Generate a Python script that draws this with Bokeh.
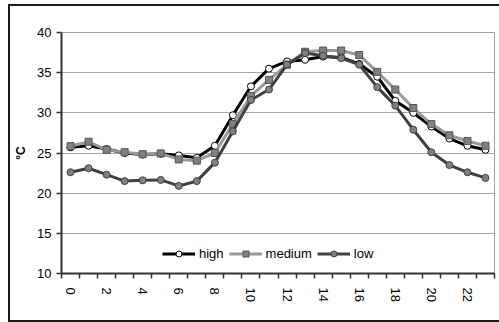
from bokeh.plotting import figure
from bokeh.models import Range1d, FixedTicker, Legend, LegendItem
from bokeh.embed import file_html
from bokeh.resources import INLINE

hours = list(range(24))
high = [25.7, 25.9, 25.5, 25.0, 24.8, 24.9, 24.7, 24.4, 25.9, 29.7, 33.3, 35.5,
        36.4, 36.6, 37.0, 36.9, 36.1, 34.5, 31.5, 30.0, 28.3, 26.8, 25.9, 25.4]
medium = [25.85, 26.4, 25.4, 25.1, 24.85, 24.95, 24.2, 24.05, 25.0, 28.6, 32.1, 34.1,
          36.0, 37.6, 37.75, 37.75, 37.2, 35.1, 32.9, 30.6, 28.6, 27.2, 26.5, 25.9]
low = [22.6, 23.1, 22.3, 21.5, 21.6, 21.65, 20.9, 21.5, 23.8, 27.7, 31.6, 32.9,
       36.0, 37.45, 37.1, 36.8, 36.0, 33.2, 30.9, 27.9, 25.1, 23.5, 22.6, 21.9]
x_tick_labels = [0, 2, 4, 6, 8, 10, 12, 14, 16, 18, 20, 22]
y_ticks = [10, 15, 20, 25, 30, 35, 40]

FONT = "Liberation Sans"

p = figure(width=499, height=322, output_backend="svg", toolbar_location=None,
           x_range=Range1d(-0.5, 23.5), y_range=Range1d(10, 40),
           min_border_left=61, min_border_right=5, min_border_top=32, min_border_bottom=49)
p.border_fill_color = None
p.background_fill_color = "white"
p.outline_line_color = "#a0a0a0"
p.outline_line_width = 1
g = "linear-gradient(#1a1a1a, #1a1a1a)"
p.styles = {"background-color": "white",
            "background-image": f"{g}, {g}, {g}",
            "background-size": "2px 318px, 491px 2px, 491px 2px",
            "background-position": "8px 4px, 8px 4px, 8px 320px",
            "background-repeat": "no-repeat"}

# axes
p.xaxis.ticker = FixedTicker(ticks=x_tick_labels, minor_ticks=[h - 0.5 for h in hours] + [23.5])
p.xaxis.major_tick_out = 0
p.xaxis.major_tick_in = 0
p.xaxis.minor_tick_out = 5
p.xaxis.minor_tick_in = 0
p.xaxis.minor_tick_line_color = "#333333"
p.xaxis.minor_tick_line_width = 1.5
p.xaxis.major_label_orientation = "vertical"
p.xaxis.major_label_standoff = 9

p.yaxis.ticker = FixedTicker(ticks=y_ticks)
p.yaxis.major_tick_out = 5
p.yaxis.major_tick_in = 0
p.yaxis.minor_tick_out = 0
p.yaxis.minor_tick_in = 0
p.yaxis.major_label_standoff = 5
p.yaxis.axis_label = "°C"
p.yaxis.axis_label_standoff = 6
p.yaxis.axis_label_text_font = FONT
p.yaxis.axis_label_text_font_style = "bold"
p.yaxis.axis_label_text_font_size = "12px"
p.yaxis.axis_label_text_color = "black"

for ax in (p.xaxis, p.yaxis):
    ax.axis_line_color = "#333333"
    ax.axis_line_width = 2
    ax.major_tick_line_color = "#333333"
    ax.major_tick_line_width = 1.5
    ax.major_label_text_font = FONT
    ax.major_label_text_font_size = "13px"
    ax.major_label_text_color = "black"

p.xgrid.grid_line_color = None
p.ygrid.ticker = FixedTicker(ticks=y_ticks)
p.ygrid.grid_line_color = "#a6a6a6"
p.ygrid.grid_line_width = 1

# series
r_hl = p.line(hours, high, line_color="black", line_width=3)
r_hm = p.scatter(hours, high, marker="circle", size=7, fill_color="white",
                 line_color="black", line_width=1)
r_ml = p.line(hours, medium, line_color="#999999", line_width=3)
r_mm = p.scatter(hours, medium, marker="square", size=7, fill_color="#808080",
                 line_color="#555555", line_width=1)
r_ll = p.line(hours, low, line_color="#404040", line_width=3)
r_lm = p.scatter(hours, low, marker="circle", size=7, fill_color="#808080",
                 line_color="#404040", line_width=1)

legend = Legend(items=[LegendItem(label="high", renderers=[r_hl, r_hm]),
                       LegendItem(label="medium", renderers=[r_ml, r_mm]),
                       LegendItem(label="low", renderers=[r_ll, r_lm])],
                orientation="horizontal", location=(101, 12))
legend.border_line_color = None
legend.background_fill_alpha = 0
legend.padding = 0
legend.margin = 0
legend.spacing = 5
legend.glyph_width = 33
legend.glyph_height = 15
legend.label_standoff = 4
legend.label_text_font = FONT
legend.label_text_font_size = "13px"
legend.label_text_color = "black"
legend.label_height = 15
p.add_layout(legend, "center")

open("out.html", "w").write(file_html(p, INLINE))
